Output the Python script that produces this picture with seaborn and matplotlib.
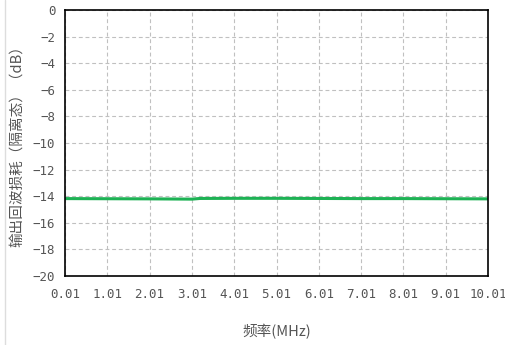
import matplotlib
matplotlib.use("Agg")
import matplotlib.pyplot as plt
import seaborn as sns
import pandas as pd

freq = [0.01, 1.01, 2.01, 3.01, 3.2, 4.01, 5.01, 6.01, 7.01, 8.01, 9.01, 10.01]
loss = [-14.18, -14.19, -14.2, -14.22, -14.17, -14.16, -14.16, -14.17, -14.18, -14.18, -14.19, -14.2]
xticks = [0.01, 1.01, 2.01, 3.01, 4.01, 5.01, 6.01, 7.01, 8.01, 9.01, 10.01]
xticklabels = ["0.01", "1.01", "2.01", "3.01", "4.01", "5.01", "6.01", "7.01", "8.01", "9.01", "10.01"]
yticks = list(range(-20, 1, 2))

sns.set_style("white")
plt.rcParams['font.family'] = ['Noto Sans CJK SC', 'DejaVu Sans']
plt.rcParams['axes.unicode_minus'] = True

df = pd.DataFrame({"freq": freq, "loss": loss})
fig = plt.figure(figsize=(5.06, 3.45), dpi=100)
ax = fig.add_axes([65/506, 1 - 276/345, (488-65)/506, (276-10)/345])
sns.lineplot(data=df, x="freq", y="loss", ax=ax, color="#1db254", linewidth=2.2)
ax.set_xlim(0.01, 10.01)
ax.set_ylim(-20, 0)
ax.set_xticks(xticks)
ax.set_xticklabels(xticklabels, family=['DejaVu Sans Mono'], fontsize=9, color="#555555")
ax.set_yticks(yticks)
ax.set_yticklabels([str(v).replace("-", "\u2212") for v in yticks], family=['DejaVu Sans Mono'], fontsize=9, color="#555555")
ax.grid(True, linestyle=(0, (3.5, 2.5)), color="#c0c0c0", linewidth=0.8)
for s in ax.spines.values():
    s.set_color("black")
    s.set_linewidth(1.2)
ax.tick_params(axis="x", length=0, pad=9)
ax.tick_params(axis="y", length=0, pad=7)
ax.set_xlabel("频率(MHz)", fontsize=10.5, color="#555555", labelpad=16)
ax.set_ylabel("输出回波损耗（隔离态）（dB）", fontsize=10.5, color="#555555", labelpad=6)
fig.add_artist(plt.Line2D([5/506, 5/506], [0, 1], color="#dddddd", linewidth=1, transform=fig.transFigure))
fig.savefig("out.png", dpi=100)
